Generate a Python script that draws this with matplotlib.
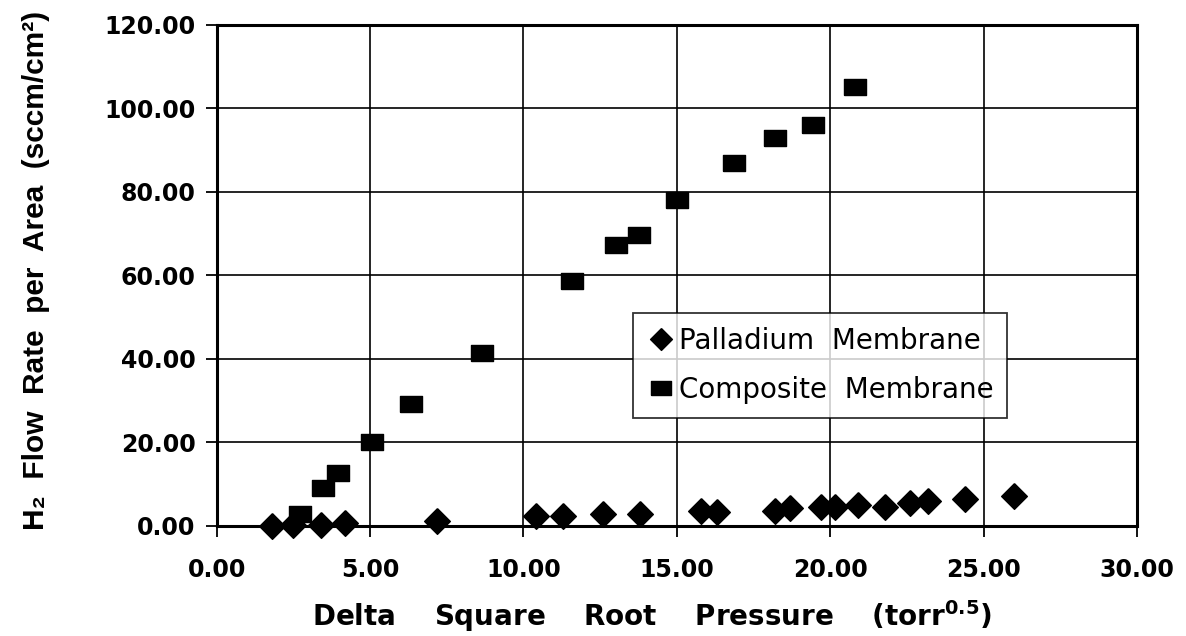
import numpy as np
import matplotlib
matplotlib.use('Agg')
import matplotlib.pyplot as plt
from matplotlib.ticker import FormatStrFormatter

# ── Data ──
pd_x = [1.8, 2.5, 3.4, 4.2, 7.2, 10.4, 11.3, 12.6, 13.8, 15.8, 16.3, 18.2, 18.7,
        19.7, 20.15, 20.9, 21.8, 22.6, 23.2, 24.4, 26.0]
pd_y = [0.0, 0.2, 0.3, 0.6, 1.3, 2.3, 2.3, 2.9, 2.8, 3.7, 3.3, 3.6, 4.2,
        4.6, 4.6, 5.0, 4.6, 5.5, 5.9, 6.4, 7.2]

comp_x = [2.72, 3.46, 3.96, 5.05, 6.35, 8.65, 11.6, 13.03, 13.78, 15.0, 16.86,
          18.2, 19.43, 20.8]
comp_y = [2.8, 9.0, 12.8, 20.2, 29.2, 41.5, 58.6, 67.2, 69.8, 78.0, 86.9,
          93.0, 96.1, 105.2]

x_ticks = [0, 5, 10, 15, 20, 25, 30]
y_ticks = [0, 20, 40, 60, 80, 100, 120]

# marker shapes: flat rectangle and diamond
rect = [(-0.69, -0.5), (0.69, -0.5), (0.69, 0.5), (-0.69, 0.5), (-0.69, -0.5)]
diam = [(0, 1), (1, 0), (0, -1), (-1, 0), (0, 1)]

fig = plt.figure(figsize=(11.86, 6.36), dpi=100, facecolor='white')
ax = fig.add_axes([0.1826, 0.1730, 0.7761, 0.7877])

ax.plot(pd_x, pd_y, linestyle='none', marker=diam, markersize=18.5,
        color='black', label='Palladium  Membrane', clip_on=False, zorder=5)
ax.plot(comp_x, comp_y, linestyle='none', marker=rect, markersize=16.5,
        color='black', label='Composite  Membrane', clip_on=False, zorder=5)

ax.set_xlim(0, 30)
ax.set_ylim(0, 120)
ax.set_xticks(x_ticks)
ax.set_yticks(y_ticks)
ax.xaxis.set_major_formatter(FormatStrFormatter('%.2f'))
ax.yaxis.set_major_formatter(FormatStrFormatter('%.2f'))
ax.grid(True, color='black', linewidth=1.2)
ax.set_axisbelow(True)
for s in ax.spines.values():
    s.set_linewidth(2.2)
    s.set_color('black')
ax.tick_params(direction='out', length=8, width=1.3, colors='black',
               labelsize=17)
ax.tick_params(axis='x', pad=15)
ax.tick_params(axis='y', pad=7)
for lab in ax.get_xticklabels() + ax.get_yticklabels():
    lab.set_fontfamily('DejaVu Sans')
    lab.set_fontweight('bold')

leg = ax.legend(loc='upper left', bbox_to_anchor=(0.4524, 0.425),
                frameon=True, fancybox=False, edgecolor='black',
                prop={'family': 'DejaVu Sans', 'size': 20},
                handletextpad=0.15, handlelength=1.0, borderpad=0.5,
                labelspacing=0.75, markerscale=0.85, borderaxespad=0)
leg.get_frame().set_linewidth(1.3)

fig.text(0.5497, 0.031,
         'Delta    Square    Root    Pressure    (torr$^{\\mathbf{0.5}}$)',
         ha='center', va='center', fontsize=20, fontweight='bold',
         family='DejaVu Sans')
fig.text(0.03, 0.575,
         'H\u2082  Flow  Rate  per  Area  (sccm/cm\u00b2)',
         ha='center', va='center', rotation=90, fontsize=21.5,
         fontweight='bold', family=['Liberation Sans', 'DejaVu Sans'])

plt.savefig('out.png', dpi=100, facecolor='white')
